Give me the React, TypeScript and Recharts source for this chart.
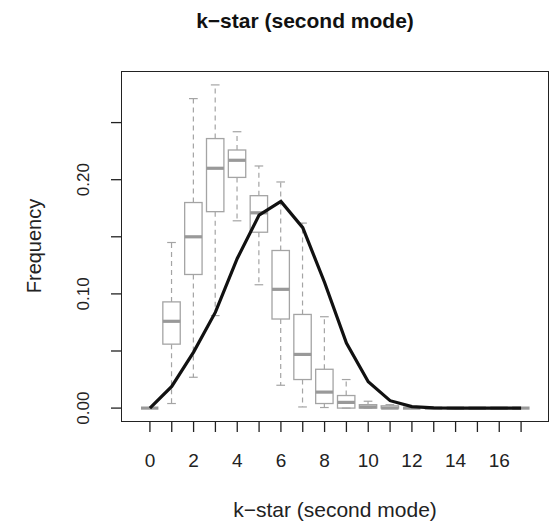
import React from 'react';
import { ComposedChart, Bar, Line, XAxis, YAxis } from 'recharts';

// k-star values (one box per value)
const kValues = [0, 1, 2, 3, 4, 5, 6, 7, 8, 9, 10, 11, 12, 13, 14, 15, 16, 17];

// boxplot stats
const whiskerLow = [0, 0.004, 0.027, 0.081, 0.164, 0.108, 0.02, 0.001, 0.0005, 0, 0, 0, 0, 0, 0, 0, 0, 0];
const lowerQuartile = [0, 0.056, 0.117, 0.172, 0.202, 0.154, 0.078, 0.025, 0.004, 0, 0, 0, 0, 0, 0, 0, 0, 0];
const medians = [0, 0.076, 0.15, 0.21, 0.217, 0.171, 0.104, 0.047, 0.014, 0.005, 0.001, 0, 0, 0, 0, 0, 0, 0];
const upperQuartile = [0, 0.093, 0.18, 0.236, 0.226, 0.186, 0.138, 0.082, 0.034, 0.011, 0.003, 0.002, 0, 0, 0, 0, 0, 0];
const whiskerHigh = [0, 0.145, 0.271, 0.283, 0.242, 0.212, 0.198, 0.162, 0.08, 0.025, 0.006, 0.003, 0, 0, 0, 0, 0, 0];

// expected frequency (black line)
const expected = [0, 0.019, 0.049, 0.084, 0.131, 0.169, 0.181, 0.158, 0.11, 0.057, 0.023, 0.0065, 0.0013, 0.0002, 0, 0, 0, 0];

const yTicks = [0, 0.05, 0.1, 0.15, 0.2, 0.25];
const yLabels = ['0.00', '', '0.10', '', '0.20', ''];

const Y_REF = 0.25; // calibration value for the box shape
const FONT = '"Liberation Sans", Arial, sans-serif';
const GREY = '#a4a4a4';

const data = kValues.map((k, i) => ({
  k,
  lo: whiskerLow[i],
  q1: lowerQuartile[i],
  med: medians[i],
  q3: upperQuartile[i],
  hi: whiskerHigh[i],
  expected: expected[i],
}));

const BoxShape = (props: any) => {
  const { x, y, width, height, payload } = props;
  const base = y + height;
  const py = (v: number) => base - (v / Y_REF) * height;
  const cx = x + width / 2;
  const cap = width / 4;
  return (
    <g>
      <line x1={cx} x2={cx} y1={py(payload.q3)} y2={py(payload.hi)} stroke={GREY} strokeWidth={1.2} strokeDasharray="5 4" />
      <line x1={cx} x2={cx} y1={py(payload.q1)} y2={py(payload.lo)} stroke={GREY} strokeWidth={1.2} strokeDasharray="5 4" />
      <line x1={cx - cap} x2={cx + cap} y1={py(payload.hi)} y2={py(payload.hi)} stroke={GREY} strokeWidth={1.2} />
      <line x1={cx - cap} x2={cx + cap} y1={py(payload.lo)} y2={py(payload.lo)} stroke={GREY} strokeWidth={1.2} />
      <rect x={x} y={py(payload.q3)} width={width} height={py(payload.q1) - py(payload.q3)} fill="none" stroke={GREY} strokeWidth={1.3} />
      <line x1={x} x2={x + width} y1={py(payload.med)} y2={py(payload.med)} stroke="#999" strokeWidth={3.2} />
    </g>
  );
};

const XTick = (props: any) => {
  const { x, y, payload } = props;
  if (payload.value % 2 !== 0) return null;
  return (
    <text x={x} y={y + 26} textAnchor="middle" dominantBaseline="central" fontSize={19} fill="#222" fontFamily={FONT}>
      {payload.value}
    </text>
  );
};

const YTick = (props: any) => {
  const { x, y, payload } = props;
  const idx = yTicks.indexOf(payload.value);
  const label = idx >= 0 ? yLabels[idx] : '';
  if (!label) return null;
  const cx = x - 25;
  return (
    <text x={cx} y={y} transform={`rotate(-90 ${cx} ${y})`} textAnchor="middle" dominantBaseline="central" fontSize={17} fill="#222" fontFamily={FONT}>
      {label}
    </text>
  );
};

export default function App() {
  return (
    <div style={{ position: 'absolute', left: 0, top: 0, width: 550, height: 526, background: '#fff', fontFamily: FONT }}>
      <div style={{ position: 'absolute', left: 0, width: 610, top: 9, textAlign: 'center', fontSize: 21, fontWeight: 700, color: '#111' }}>
        k−star (second mode)
      </div>
      <ComposedChart width={550} height={526} data={data} margin={{ top: 72, right: 2, bottom: 0, left: 0 }}>
        <XAxis
          dataKey="k"
          interval={0}
          height={105}
          padding={{ left: 17, right: 16 }}
          axisLine={false}
          tickSize={11}
          tickLine={{ stroke: '#222', strokeWidth: 1.3 }}
          tick={<XTick />}
        />
        <YAxis
          type="number"
          width={122}
          domain={[-0.0113, 0.2943]}
          ticks={yTicks}
          axisLine={false}
          tickSize={11}
          tickLine={{ stroke: '#222', strokeWidth: 1.3 }}
          tick={<YTick />}
        />
        <Bar dataKey={() => Y_REF} barSize={17.4} shape={<BoxShape />} isAnimationActive={false} />
        <Line dataKey="expected" type="linear" stroke="#111" strokeWidth={3.2} dot={false} isAnimationActive={false} />
      </ComposedChart>
      <div style={{ position: 'absolute', left: 121, top: 71, width: 428, height: 351, border: '1.8px solid #222', boxSizing: 'border-box', pointerEvents: 'none' }} />
      <div style={{ position: 'absolute', left: 122, width: 426, top: 498, textAlign: 'center', fontSize: 21, color: '#222' }}>
        k−star (second mode)
      </div>
      <div style={{ position: 'absolute', left: 34, top: 246, transform: 'translate(-50%, -50%) rotate(-90deg)', fontSize: 20, color: '#222', whiteSpace: 'nowrap' }}>
        Frequency
      </div>
    </div>
  );
}
